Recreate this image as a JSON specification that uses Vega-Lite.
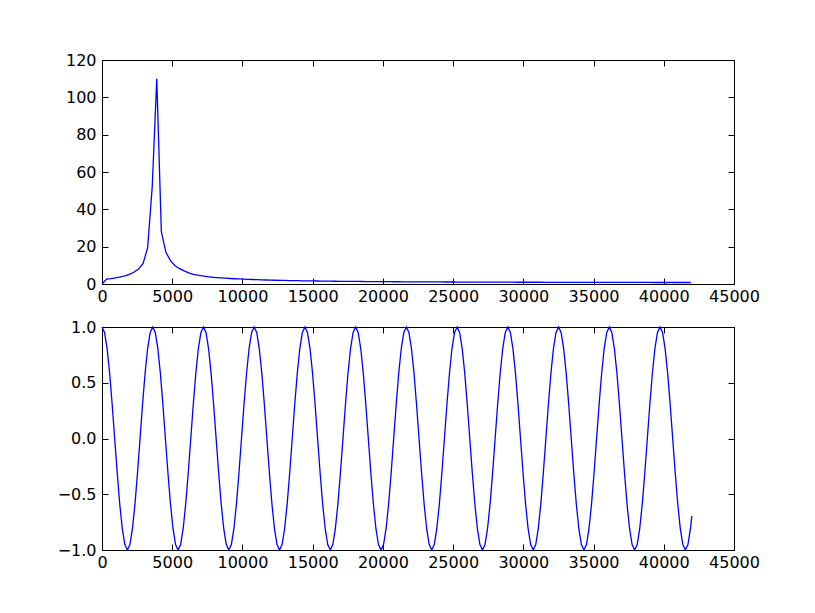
{
"$schema": "https://vega.github.io/schema/vega-lite/v6.json",
"padding": {"left": 56, "top": 51, "right": 5, "bottom": 5},
"background": "white",
"spacing": 13,
"datasets": {
"fft": [
{"x":0,"y":0},{"x":325,"y":2.6},{"x":650,"y":2.9},{"x":975,"y":3.3},{"x":1300,"y":3.8},{"x":1625,"y":4.4},{"x":1950,"y":5.2},{"x":2275,"y":6.3},{"x":2600,"y":8},{"x":2925,"y":11},
{"x":3250,"y":19.5},{"x":3575,"y":52},{"x":3900,"y":110},{"x":4225,"y":28},{"x":4550,"y":17},{"x":4875,"y":12.5},{"x":5200,"y":9.8},{"x":5525,"y":8.2},{"x":5850,"y":7.0},{"x":6175,"y":6.0},
{"x":6500,"y":5.2},{"x":6825,"y":4.7},{"x":7150,"y":4.3},{"x":7475,"y":4.0},{"x":7800,"y":3.7},{"x":8125,"y":3.45},{"x":8450,"y":3.25},{"x":8775,"y":3.1},{"x":9100,"y":2.95},{"x":9425,"y":2.8},
{"x":9750,"y":2.7},{"x":10075,"y":2.6},{"x":10400,"y":2.5},{"x":10725,"y":2.4},{"x":11050,"y":2.3},{"x":11375,"y":2.22},{"x":11700,"y":2.15},{"x":12025,"y":2.08},{"x":12350,"y":2.02},{"x":12675,"y":1.96},
{"x":13000,"y":1.9},{"x":13325,"y":1.85},{"x":13650,"y":1.8},{"x":13975,"y":1.76},{"x":14300,"y":1.72},{"x":14625,"y":1.68},{"x":14950,"y":1.64},{"x":15275,"y":1.6},{"x":15600,"y":1.57},{"x":15925,"y":1.54},
{"x":16250,"y":1.51},{"x":16575,"y":1.48},{"x":16900,"y":1.45},{"x":17225,"y":1.43},{"x":17550,"y":1.4},{"x":17875,"y":1.38},{"x":18200,"y":1.36},{"x":18525,"y":1.34},{"x":18850,"y":1.32},{"x":19175,"y":1.3},
{"x":19500,"y":1.28},{"x":19825,"y":1.26},{"x":20150,"y":1.24},{"x":20475,"y":1.23},{"x":20800,"y":1.21},{"x":21125,"y":1.2},{"x":21450,"y":1.18},{"x":21775,"y":1.17},{"x":22100,"y":1.16},{"x":22425,"y":1.14},
{"x":22750,"y":1.13},{"x":23075,"y":1.12},{"x":23400,"y":1.11},{"x":23725,"y":1.1},{"x":24050,"y":1.09},{"x":24375,"y":1.08},{"x":24700,"y":1.07},{"x":25025,"y":1.06},{"x":25350,"y":1.05},{"x":25675,"y":1.04},
{"x":26000,"y":1.03},{"x":26325,"y":1.02},{"x":26650,"y":1.01},{"x":26975,"y":1.0},{"x":27300,"y":0.995},{"x":27625,"y":0.99},{"x":27950,"y":0.98},{"x":28275,"y":0.975},{"x":28600,"y":0.97},{"x":28925,"y":0.96},
{"x":29250,"y":0.955},{"x":29575,"y":0.95},{"x":29900,"y":0.945},{"x":30225,"y":0.94},{"x":30550,"y":0.935},{"x":30875,"y":0.93},{"x":31200,"y":0.925},{"x":31525,"y":0.92},{"x":31850,"y":0.915},{"x":32175,"y":0.91},
{"x":32500,"y":0.905},{"x":32825,"y":0.9},{"x":33150,"y":0.895},{"x":33475,"y":0.89},{"x":33800,"y":0.885},{"x":34125,"y":0.88},{"x":34450,"y":0.876},{"x":34775,"y":0.872},{"x":35100,"y":0.868},{"x":35425,"y":0.864},
{"x":35750,"y":0.86},{"x":36075,"y":0.856},{"x":36400,"y":0.852},{"x":36725,"y":0.848},{"x":37050,"y":0.844},{"x":37375,"y":0.84},{"x":37700,"y":0.836},{"x":38025,"y":0.832},{"x":38350,"y":0.828},{"x":38675,"y":0.824},
{"x":39000,"y":0.82},{"x":39325,"y":0.817},{"x":39650,"y":0.814},{"x":39975,"y":0.811},{"x":40300,"y":0.808},{"x":40625,"y":0.805},{"x":40950,"y":0.802},{"x":41275,"y":0.8},{"x":41600,"y":0.8},{"x":41925,"y":0.8}
],
"wave": [
{"x":0,"y":1},{"x":181,"y":0.951},{"x":361,"y":0.809},{"x":542,"y":0.588},{"x":722,"y":0.309},{"x":903,"y":0},{"x":1084,"y":-0.309},{"x":1264,"y":-0.588},{"x":1445,"y":-0.809},{"x":1625,"y":-0.951},{"x":1806,"y":-1},{"x":1987,"y":-0.951},{"x":2167,"y":-0.809},{"x":2348,"y":-0.588},{"x":2528,"y":-0.309},{"x":2709,"y":0},{"x":2890,"y":0.309},{"x":3070,"y":0.588},{"x":3251,"y":0.809},{"x":3431,"y":0.951},
{"x":3612,"y":1},{"x":3793,"y":0.951},{"x":3973,"y":0.809},{"x":4154,"y":0.588},{"x":4334,"y":0.309},{"x":4515,"y":0},{"x":4696,"y":-0.309},{"x":4876,"y":-0.588},{"x":5057,"y":-0.809},{"x":5237,"y":-0.951},{"x":5418,"y":-1},{"x":5599,"y":-0.951},{"x":5779,"y":-0.809},{"x":5960,"y":-0.588},{"x":6140,"y":-0.309},{"x":6321,"y":0},{"x":6502,"y":0.309},{"x":6682,"y":0.588},{"x":6863,"y":0.809},{"x":7043,"y":0.951},
{"x":7224,"y":1},{"x":7405,"y":0.951},{"x":7585,"y":0.809},{"x":7766,"y":0.588},{"x":7946,"y":0.309},{"x":8127,"y":0},{"x":8308,"y":-0.309},{"x":8488,"y":-0.588},{"x":8669,"y":-0.809},{"x":8849,"y":-0.951},{"x":9030,"y":-1},{"x":9211,"y":-0.951},{"x":9391,"y":-0.809},{"x":9572,"y":-0.588},{"x":9752,"y":-0.309},{"x":9933,"y":0},{"x":10114,"y":0.309},{"x":10294,"y":0.588},{"x":10475,"y":0.809},{"x":10655,"y":0.951},
{"x":10836,"y":1},{"x":11017,"y":0.951},{"x":11197,"y":0.809},{"x":11378,"y":0.588},{"x":11558,"y":0.309},{"x":11739,"y":0},{"x":11920,"y":-0.309},{"x":12100,"y":-0.588},{"x":12281,"y":-0.809},{"x":12461,"y":-0.951},{"x":12642,"y":-1},{"x":12823,"y":-0.951},{"x":13003,"y":-0.809},{"x":13184,"y":-0.588},{"x":13364,"y":-0.309},{"x":13545,"y":0},{"x":13726,"y":0.309},{"x":13906,"y":0.588},{"x":14087,"y":0.809},{"x":14267,"y":0.951},
{"x":14448,"y":1},{"x":14629,"y":0.951},{"x":14809,"y":0.809},{"x":14990,"y":0.588},{"x":15170,"y":0.309},{"x":15351,"y":0},{"x":15532,"y":-0.309},{"x":15712,"y":-0.588},{"x":15893,"y":-0.809},{"x":16073,"y":-0.951},{"x":16254,"y":-1},{"x":16435,"y":-0.951},{"x":16615,"y":-0.809},{"x":16796,"y":-0.588},{"x":16976,"y":-0.309},{"x":17157,"y":0},{"x":17338,"y":0.309},{"x":17518,"y":0.588},{"x":17699,"y":0.809},{"x":17879,"y":0.951},
{"x":18060,"y":1},{"x":18241,"y":0.951},{"x":18421,"y":0.809},{"x":18602,"y":0.588},{"x":18782,"y":0.309},{"x":18963,"y":0},{"x":19144,"y":-0.309},{"x":19324,"y":-0.588},{"x":19505,"y":-0.809},{"x":19685,"y":-0.951},{"x":19866,"y":-1},{"x":20047,"y":-0.951},{"x":20227,"y":-0.809},{"x":20408,"y":-0.588},{"x":20588,"y":-0.309},{"x":20769,"y":0},{"x":20950,"y":0.309},{"x":21130,"y":0.588},{"x":21311,"y":0.809},{"x":21491,"y":0.951},
{"x":21672,"y":1},{"x":21853,"y":0.951},{"x":22033,"y":0.809},{"x":22214,"y":0.588},{"x":22394,"y":0.309},{"x":22575,"y":0},{"x":22756,"y":-0.309},{"x":22936,"y":-0.588},{"x":23117,"y":-0.809},{"x":23297,"y":-0.951},{"x":23478,"y":-1},{"x":23659,"y":-0.951},{"x":23839,"y":-0.809},{"x":24020,"y":-0.588},{"x":24200,"y":-0.309},{"x":24381,"y":0},{"x":24562,"y":0.309},{"x":24742,"y":0.588},{"x":24923,"y":0.809},{"x":25103,"y":0.951},
{"x":25284,"y":1},{"x":25465,"y":0.951},{"x":25645,"y":0.809},{"x":25826,"y":0.588},{"x":26006,"y":0.309},{"x":26187,"y":0},{"x":26368,"y":-0.309},{"x":26548,"y":-0.588},{"x":26729,"y":-0.809},{"x":26909,"y":-0.951},{"x":27090,"y":-1},{"x":27271,"y":-0.951},{"x":27451,"y":-0.809},{"x":27632,"y":-0.588},{"x":27812,"y":-0.309},{"x":27993,"y":0},{"x":28174,"y":0.309},{"x":28354,"y":0.588},{"x":28535,"y":0.809},{"x":28715,"y":0.951},
{"x":28896,"y":1},{"x":29077,"y":0.951},{"x":29257,"y":0.809},{"x":29438,"y":0.588},{"x":29618,"y":0.309},{"x":29799,"y":0},{"x":29980,"y":-0.309},{"x":30160,"y":-0.588},{"x":30341,"y":-0.809},{"x":30521,"y":-0.951},{"x":30702,"y":-1},{"x":30883,"y":-0.951},{"x":31063,"y":-0.809},{"x":31244,"y":-0.588},{"x":31424,"y":-0.309},{"x":31605,"y":0},{"x":31786,"y":0.309},{"x":31966,"y":0.588},{"x":32147,"y":0.809},{"x":32327,"y":0.951},
{"x":32508,"y":1},{"x":32689,"y":0.951},{"x":32869,"y":0.809},{"x":33050,"y":0.588},{"x":33230,"y":0.309},{"x":33411,"y":0},{"x":33592,"y":-0.309},{"x":33772,"y":-0.588},{"x":33953,"y":-0.809},{"x":34133,"y":-0.951},{"x":34314,"y":-1},{"x":34495,"y":-0.951},{"x":34675,"y":-0.809},{"x":34856,"y":-0.588},{"x":35036,"y":-0.309},{"x":35217,"y":0},{"x":35398,"y":0.309},{"x":35578,"y":0.588},{"x":35759,"y":0.809},{"x":35939,"y":0.951},
{"x":36120,"y":1},{"x":36301,"y":0.951},{"x":36481,"y":0.809},{"x":36662,"y":0.588},{"x":36842,"y":0.309},{"x":37023,"y":0},{"x":37204,"y":-0.309},{"x":37384,"y":-0.588},{"x":37565,"y":-0.809},{"x":37745,"y":-0.951},{"x":37926,"y":-1},{"x":38107,"y":-0.951},{"x":38287,"y":-0.809},{"x":38468,"y":-0.588},{"x":38648,"y":-0.309},{"x":38829,"y":0},{"x":39010,"y":0.309},{"x":39190,"y":0.588},{"x":39371,"y":0.809},{"x":39551,"y":0.951},
{"x":39732,"y":1},{"x":39913,"y":0.951},{"x":40093,"y":0.809},{"x":40274,"y":0.588},{"x":40454,"y":0.309},{"x":40635,"y":0},{"x":40816,"y":-0.309},{"x":40996,"y":-0.588},{"x":41177,"y":-0.809},{"x":41357,"y":-0.951},{"x":41538,"y":-1},{"x":41719,"y":-0.951},{"x":41899,"y":-0.809},{"x":42000,"y":-0.694}
]
},
"vconcat": [
{
"width": 632, "height": 224,
"data": {"name": "fft"},
"layer": [
{"mark": {"type": "line", "color": "#0000ff", "strokeWidth": 1.3},
 "encoding": {
  "x": {"field": "x", "type": "quantitative", "scale": {"domain": [0, 45000], "nice": false}, "axis": {"title": null, "values": [0,5000,10000,15000,20000,25000,30000,35000,40000,45000], "format": "d"}},
  "y": {"field": "y", "type": "quantitative", "scale": {"domain": [0, 120], "nice": false, "zero": false}, "axis": {"title": null, "values": [0,20,40,60,80,100,120], "format": "d"}}
 }},
{"mark": {"type": "line", "opacity": 0},
 "encoding": {
  "x": {"field": "x", "type": "quantitative", "axis": {"title": null, "orient": "top", "labels": false, "values": [0,5000,10000,15000,20000,25000,30000,35000,40000,45000]}},
  "y": {"field": "y", "type": "quantitative", "axis": {"title": null, "orient": "right", "labels": false, "values": [0,20,40,60,80,100,120]}}
 }}
],
"resolve": {"axis": {"x": "independent", "y": "independent"}}
},
{
"width": 632, "height": 223,
"data": {"name": "wave"},
"layer": [
{"mark": {"type": "line", "color": "#0000ff", "strokeWidth": 1.3},
 "encoding": {
  "x": {"field": "x", "type": "quantitative", "scale": {"domain": [0, 45000], "nice": false}, "axis": {"title": null, "values": [0,5000,10000,15000,20000,25000,30000,35000,40000,45000], "format": "d"}},
  "y": {"field": "y", "type": "quantitative", "scale": {"domain": [-1, 1], "nice": false, "zero": false}, "axis": {"title": null, "values": [-1,-0.5,0,0.5,1], "format": ".1f"}}
 }},
{"mark": {"type": "line", "opacity": 0},
 "encoding": {
  "x": {"field": "x", "type": "quantitative", "axis": {"title": null, "orient": "top", "labels": false, "values": [0,5000,10000,15000,20000,25000,30000,35000,40000,45000]}},
  "y": {"field": "y", "type": "quantitative", "axis": {"title": null, "orient": "right", "labels": false, "values": [-1,-0.5,0,0.5,1]}}
 }}
],
"resolve": {"axis": {"x": "independent", "y": "independent"}}
}
],
"config": {
 "view": {"stroke": "black", "strokeWidth": 1},
 "axis": {"grid": false, "domainColor": "black", "domainWidth": 1, "tickColor": "black", "tickWidth": 1, "tickSize": -6, "labelColor": "black", "labelFont": "DejaVu Sans", "labelFontSize": 16, "labelFlush": false, "labelOverlap": false},
 "axisX": {"labelPadding": 10},
 "axisY": {"labelPadding": 12}
}
}
